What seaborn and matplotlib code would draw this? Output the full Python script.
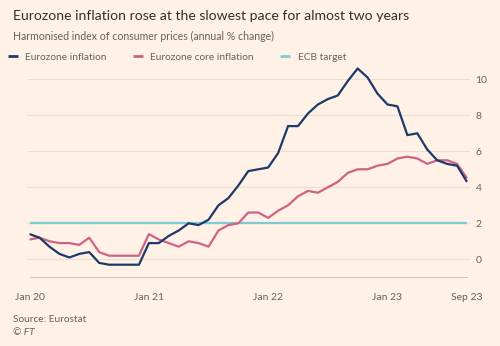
import matplotlib
matplotlib.use("Agg")
import matplotlib.pyplot as plt
import numpy as np
import pandas as pd
import seaborn as sns

# Monthly HICP, Jan 2020 - Sep 2023 (annual % change)
months = pd.date_range("2020-01-01", "2023-09-01", freq="MS")
headline = [1.4, 1.2, 0.7, 0.3, 0.1, 0.3, 0.4, -0.2, -0.3, -0.3, -0.3, -0.3,
            0.9, 0.9, 1.3, 1.6, 2.0, 1.9, 2.2, 3.0, 3.4, 4.1, 4.9, 5.0,
            5.1, 5.9, 7.4, 7.4, 8.1, 8.6, 8.9, 9.1, 9.9, 10.6, 10.1, 9.2,
            8.6, 8.5, 6.9, 7.0, 6.1, 5.5, 5.3, 5.2, 4.3]
core = [1.1, 1.2, 1.0, 0.9, 0.9, 0.8, 1.2, 0.4, 0.2, 0.2, 0.2, 0.2,
        1.4, 1.1, 0.9, 0.7, 1.0, 0.9, 0.7, 1.6, 1.9, 2.0, 2.6, 2.6,
        2.3, 2.7, 3.0, 3.5, 3.8, 3.7, 4.0, 4.3, 4.8, 5.0, 5.0, 5.2,
        5.3, 5.6, 5.7, 5.6, 5.3, 5.5, 5.5, 5.3, 4.5]
ecb_target = 2.0
series_names = ["Eurozone inflation", "Eurozone core inflation", "ECB target"]
series_colors = ["#1b3a6b", "#cf6283", "#80c9d9"]
y_ticks = [0, 2, 4, 6, 8, 10]
x_tick_labels = ["Jan 20", "Jan 21", "Jan 22", "Jan 23", "Sep 23"]
x_tick_pos = [0, 12, 24, 36, 44]

n = len(months)
idx = np.arange(n)
df = pd.DataFrame({
    "month": np.concatenate([idx, idx, idx]),
    "value": np.concatenate([headline, core, [ecb_target] * n]),
    "series": np.repeat(series_names, n),
})

BG = "#fff1e5"
TEXT = "#33302e"
MUTED = "#66605c"
GRID = "#ebddd1"
AXIS = "#cfc3b8"

sns.set_theme(style="white")
plt.rcParams["font.family"] = ["Lato", "DejaVu Sans"]

fig = plt.figure(figsize=(5.0, 3.46), dpi=100, facecolor=BG)
ax = fig.add_axes([27 / 500, (346 - 277.3) / 346, 443 / 500, 214.2 / 346])
ax.set_facecolor(BG)

# draw ECB target first so the inflation lines sit on top
order = ["ECB target", "Eurozone core inflation", "Eurozone inflation"]
palette = dict(zip(series_names, series_colors))
for name in order:
    sub = df[df["series"] == name]
    sns.lineplot(data=sub, x="month", y="value", color=palette[name],
                 lw=1.6, ax=ax, legend=False, solid_capstyle="butt")

ax.set_xlim(-0.26, 44.3)
ax.set_ylim(-1, 10.9)

for v in y_ticks:
    ax.axhline(v, color=GRID, lw=0.8, zorder=0)

ax.yaxis.tick_right()
ax.set_yticks(y_ticks)
ax.set_yticklabels([str(v) for v in y_ticks])
ax.tick_params(axis="y", length=0, pad=4, labelsize=7.5, labelcolor=MUTED)

ax.set_xticks(x_tick_pos)
ax.set_xticklabels(x_tick_labels)
ax.set_xticks(idx, minor=True)
ax.tick_params(axis="x", which="both", direction="out", length=4, width=0.7,
               color=AXIS, labelsize=7.5, labelcolor=MUTED, pad=7)
ax.set_xlabel("")
ax.set_ylabel("")

for s in ["top", "left", "right"]:
    ax.spines[s].set_visible(False)
ax.spines["bottom"].set_color(AXIS)
ax.spines["bottom"].set_linewidth(0.7)
ax.spines["bottom"].set_bounds(0, 44)

# header text
fig.text(13 / 500, 1 - 20 / 346,
         "Eurozone inflation rose at the slowest pace for almost two years",
         fontsize=10.1, color=TEXT, ha="left", va="baseline")
fig.text(13 / 500, 1 - 40 / 346,
         "Harmonised index of consumer prices (annual % change)",
         fontsize=7.6, color=MUTED, ha="left", va="baseline")

# legend row
handles = [plt.Line2D([], [], color=c, lw=2, solid_capstyle="butt")
           for c in series_colors]
fig.legend(handles, series_names, loc="center left",
           bbox_to_anchor=(8 / 500, 1 - 57.5 / 346), ncol=3, frameon=False,
           fontsize=7.3, labelcolor=MUTED, handlelength=1.0, handletextpad=0.7,
           columnspacing=2.6, borderaxespad=0, borderpad=0)

fig.text(13 / 500, 1 - 322 / 346, "Source: Eurostat",
         fontsize=7.3, color=MUTED, ha="left", va="baseline")
fig.text(13 / 500, 1 - 335 / 346, "© FT",
         fontsize=7.3, color=MUTED, ha="left", va="baseline", style="italic")

fig.savefig("out.png", dpi=100, facecolor=BG)
